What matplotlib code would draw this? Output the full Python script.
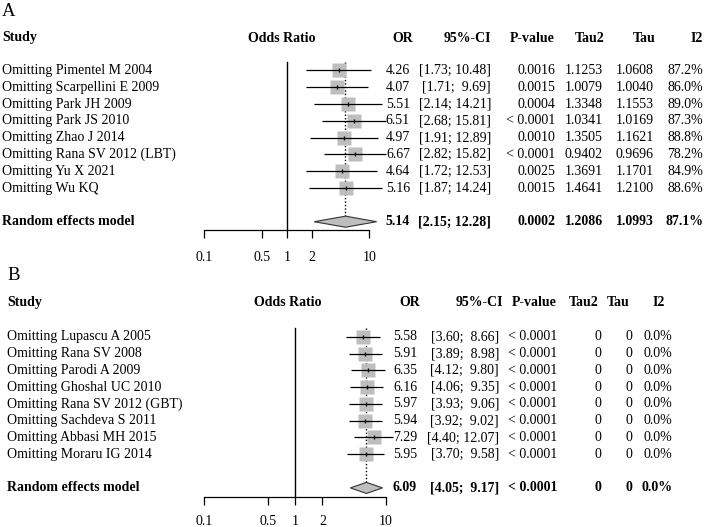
import matplotlib
matplotlib.use("Agg")
import matplotlib.pyplot as plt
from matplotlib.ticker import NullLocator

plt.rcParams['font.family'] = ['Liberation Serif', 'DejaVu Serif']

# ---------------- data ----------------
studies_a = ["Omitting Pimentel M 2004", "Omitting Scarpellini E 2009", "Omitting Park JH 2009",
             "Omitting Park JS 2010", "Omitting Zhao J 2014", "Omitting Rana SV 2012 (LBT)",
             "Omitting Yu X 2021", "Omitting Wu KQ"]
or_a = [4.26, 4.07, 5.51, 6.51, 4.97, 6.67, 4.64, 5.16]
lo_a = [1.73, 1.71, 2.14, 2.68, 1.91, 2.82, 1.72, 1.87]
hi_a = [10.48, 9.69, 14.21, 15.81, 12.89, 15.82, 12.53, 14.24]
p_a = ["0.0016", "0.0015", "0.0004", "< 0.0001", "0.0010", "< 0.0001", "0.0025", "0.0015"]
tau2_a = [1.1253, 1.0079, 1.3348, 1.0341, 1.3505, 0.9402, 1.3691, 1.4641]
tau_a = [1.0608, 1.0040, 1.1553, 1.0169, 1.1621, 0.9696, 1.1701, 1.2100]
i2_a = [87.2, 86.0, 89.0, 87.3, 88.8, 78.2, 84.9, 88.6]
summary_a = dict(est=5.14, lo=2.15, hi=12.28, p="0.0002", tau2=1.2086, tau=1.0993, i2=87.1)

studies_b = ["Omitting Lupascu A 2005", "Omitting Rana SV 2008", "Omitting Parodi A 2009",
             "Omitting Ghoshal UC 2010", "Omitting Rana SV 2012 (GBT)", "Omitting Sachdeva S 2011",
             "Omitting Abbasi MH 2015", "Omitting Moraru IG 2014"]
or_b = [5.58, 5.91, 6.35, 6.16, 5.97, 5.94, 7.29, 5.95]
lo_b = [3.60, 3.89, 4.12, 4.06, 3.93, 3.92, 4.40, 3.70]
hi_b = [8.66, 8.98, 9.80, 9.35, 9.06, 9.02, 12.07, 9.58]
p_b = ["< 0.0001"] * 8
tau2_b = [0, 0, 0, 0, 0, 0, 0, 0]
tau_b = [0, 0, 0, 0, 0, 0, 0, 0]
i2_b = [0.0, 0.0, 0.0, 0.0, 0.0, 0.0, 0.0, 0.0]
summary_b = dict(est=6.09, lo=4.05, hi=9.17, p="< 0.0001", tau2=0, tau=0, i2=0.0)

ticks = [0.1, 0.5, 1, 2, 10]
tick_labels = ["0.1", "0.5", "1", "2", "10"]
headers = ["OR", "95%-CI", "P-value", "Tau2", "Tau", "I2"]

# ---------------- layout ----------------
W, H = 708, 527
fig = plt.figure(figsize=(W / 100, H / 100), dpi=100)
bg = fig.add_axes([0, 0, 1, 1])
bg.set_xlim(0, W)
bg.set_ylim(H, 0)
bg.axis('off')

FS = 10
SQ = '#BEBEBE'


def fnum(v):
    return "0" if v == 0 else f"{v:.4f}"


def fci(lo, hi):
    s_hi = f"{hi:.2f}"
    pad = "  " if len(s_hi) < 5 else " "
    return f"[{lo:.2f};{pad}{s_hi}]"


def panel(label, cfg, studies, ors, los, his, pv, t2, t, i2, summ):
    row0, sp = cfg['row0'], cfg['sp']

    def ypx(r):
        return row0 + (r - 1) * sp

    n = len(studies)
    rows = list(range(1, n + 1))
    srow = n + 2
    axis_row = srow + 0.52
    top_row = 0.3
    x0, x1 = cfg['x01']
    ax = fig.add_axes([x0 / W, 1 - ypx(axis_row) / H, (x1 - x0) / W,
                       (ypx(axis_row) - ypx(top_row)) / H])
    ax.set_xscale('log')
    ax.set_xlim(0.1, 10)
    ax.set_ylim(axis_row, top_row)
    ax.patch.set_alpha(0)
    for s in ['top', 'left', 'right']:
        ax.spines[s].set_visible(False)
    ax.spines['bottom'].set_linewidth(0.9)
    ax.set_yticks([])
    ax.set_xticks(ticks)
    ax.set_xticklabels(tick_labels)
    ax.xaxis.set_minor_locator(NullLocator())
    ax.tick_params(axis='x', direction='out', length=5.8, width=0.9, pad=cfg['pad'],
                   labelsize=FS)

    # reference lines
    ax.plot([1, 1], [0.5, axis_row], color='black', lw=1.0, clip_on=False, zorder=1)
    h = 0.33
    ax.plot([summ['est'], summ['est']], [0.5, srow - h], color='black', lw=1.0,
            ls=(0, (1, 1.5)), zorder=1)

    # studies
    ax.plot(ors, rows, 's', ms=9.8, color=SQ, mec='none', zorder=2, clip_on=False)
    ax.hlines(rows, los, his, color='black', lw=0.9, zorder=3, clip_on=False)
    ax.plot(ors, rows, '|', ms=3.5, mew=1.0, color='black', zorder=4, clip_on=False)

    # summary diamond
    e, lo, hi = summ['est'], summ['lo'], summ['hi']
    ax.fill([lo, e, hi, e], [srow, srow - h, srow, srow + h], facecolor=SQ,
            edgecolor='#333333', lw=0.8, zorder=3, clip_on=False)

    # texts
    bg.text(cfg['lab'][0], cfg['lab'][1], label, fontsize=13.5, ha='left', va='center')
    hy = cfg['head']
    bg.text(cfg['sx'], hy, "Study", fontsize=FS, fontweight='bold', ha='left', va='center')
    bg.text(cfg['orx'], hy, "Odds Ratio", fontsize=FS, fontweight='bold', ha='center',
            va='center')
    cols = cfg['cols']
    for hx, hd in zip(cfg['hcols'], headers):
        bg.text(hx, hy, hd, fontsize=FS, fontweight='bold', ha='right', va='center')
    for i, r in enumerate(rows):
        y = ypx(r)
        bg.text(cfg['sx'], y, studies[i], fontsize=FS, ha='left', va='center')
        vals = [f"{ors[i]:.2f}", fci(los[i], his[i]), pv[i], fnum(t2[i]), fnum(t[i]),
                f"{i2[i]:.1f}%"]
        for cx, v in zip(cols, vals):
            bg.text(cx, y, v, fontsize=FS, ha='right', va='center')
    y = ypx(srow)
    bg.text(cfg['sx'], y, "Random effects model", fontsize=FS, fontweight='bold',
            ha='left', va='center')
    vals = [f"{e:.2f}", fci(lo, hi), summ['p'], fnum(summ['tau2']), fnum(summ['tau']),
            f"{summ['i2']:.1f}%"]
    for cx, v in zip(cols, vals):
        bg.text(cx, y, v, fontsize=FS, fontweight='bold', ha='right', va='center')


cfg_a = dict(row0=70.5, sp=16.8, x01=(204.3, 369.3), pad=9, lab=(2, 12), head=38,
             sx=2, orx=282,
             cols=[410, 491, 555, 603, 654, 703],
             hcols=[413, 491, 555, 605, 656, 703])
cfg_b = dict(row0=336.7, sp=16.8, x01=(204.3, 386.0), pad=7.5, lab=(7, 275), head=302.5,
             sx=7, orx=288,
             cols=[417, 499, 557, 601, 632, 672],
             hcols=[420, 503, 557, 599, 630, 665])

panel("A", cfg_a, studies_a, or_a, lo_a, hi_a, p_a, tau2_a, tau_a, i2_a, summary_a)
panel("B", cfg_b, studies_b, or_b, lo_b, hi_b, p_b, tau2_b, tau_b, i2_b, summary_b)

fig.savefig("out.png", dpi=100, facecolor='white')
